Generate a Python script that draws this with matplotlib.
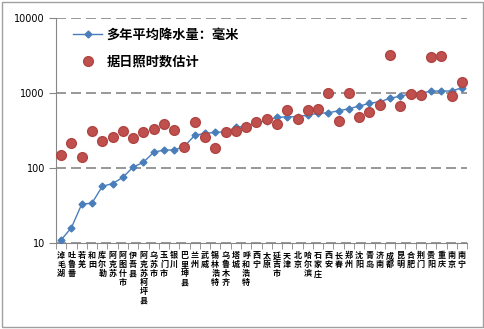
import matplotlib
matplotlib.use("Agg")
import matplotlib.pyplot as plt
from matplotlib.patches import Rectangle
from matplotlib.ticker import FixedLocator, NullFormatter

plt.rcParams['font.family'] = ['Noto Sans CJK SC', 'DejaVu Sans']

cities = ["淖毛湖", "吐鲁番", "若羌", "和田", "库尔勒", "阿克苏", "阿图什市", "伊吾县",
          "阿克苏柯坪县", "乌苏市", "玉门市", "银川", "巴里坤县", "兰州", "武威", "锡林浩特",
          "乌鲁木齐", "塔城", "呼和浩特", "西宁", "太原", "延吉市", "天津", "北京",
          "哈尔滨", "石家庄", "西安", "长春", "郑州", "沈阳", "青岛", "济南",
          "成都", "昆明", "合肥", "荆门", "贵阳", "重庆", "南京", "南宁"]

# long-term mean precipitation, mm
rainfall = [11, 16, 33, 34, 57, 62, 75, 103,
            119, 162, 174, 174, 195, 273, 290, 299,
            305, 349, 363, 402, 427, 474, 483, 483,
            509, 536, 546, 580, 618, 671, 729, 766,
            849, 912, 970, 991, 1064, 1064, 1064, 1177]

# estimate from sunshine hours
sunshine_est = [149, 213, 142, 311, 231, 261, 311, 253,
                302, 331, 382, 321, 192, 414, 261, 187,
                305, 311, 349, 414, 452, 382, 593, 450,
                593, 612, 1009, 427, 1009, 474, 558, 692,
                3213, 671, 970, 940, 3050, 3140, 912, 1415]

x = list(range(len(cities)))

fig = plt.figure(figsize=(4.85, 3.29), dpi=100)
fig.patches.append(Rectangle((0.004, 0.006), 0.991, 0.988, transform=fig.transFigure,
                             fill=False, edgecolor="#a0a0a0", linewidth=1.0))
ax = fig.add_axes([0.1155, 0.2614, 0.8475, 0.6836])

ax.plot(x, rainfall, color="#4a7ebb", linewidth=1.0, marker="D", markersize=3.5,
        markerfacecolor="#4a7ebb", markeredgecolor="#4a7ebb",
        label="多年平均降水量：毫米", zorder=3)
ax.plot(x, sunshine_est, linestyle="none", marker="o", markersize=7,
        markerfacecolor="#c0504d", markeredgecolor="#b04542",
        label="据日照时数估计", zorder=4)

ax.set_yscale("log")
ax.set_ylim(10, 10000)
ax.set_xlim(-0.5, len(cities) - 0.5)
ax.set_yticks([10, 100, 1000, 10000])
ax.set_yticklabels(["10", "100", "1000", "10000"], fontsize=7, family="DejaVu Sans")
ax.yaxis.set_minor_locator(FixedLocator([]))
ax.grid(axis="y", which="major", linestyle=(0, (6, 3)), color="#868686", linewidth=1.2)

ax.set_xticks(x)
ax.set_xticklabels(["\n".join(c) for c in cities], fontsize=5.8, fontweight="bold",
                   linespacing=1.0, va="top")
ax.set_xticks([i + 0.5 for i in range(-1, len(cities))], minor=True)
ax.xaxis.set_minor_formatter(NullFormatter())
ax.tick_params(axis="x", which="major", length=0, pad=6)
ax.tick_params(axis="x", which="minor", length=4, color="#868686")
ax.tick_params(axis="y", which="major", length=5, color="#868686", pad=3)

for side in ("top", "right"):
    ax.spines[side].set_visible(False)
for side in ("left", "bottom"):
    ax.spines[side].set_color("#868686")

ax.legend(loc="upper left", bbox_to_anchor=(0.013, 1.01), frameon=False,
          prop={"size": 9.5, "weight": "bold"}, handlelength=2.2,
          handletextpad=0.3, labelspacing=1.0)

fig.savefig("out.png", dpi=100)
